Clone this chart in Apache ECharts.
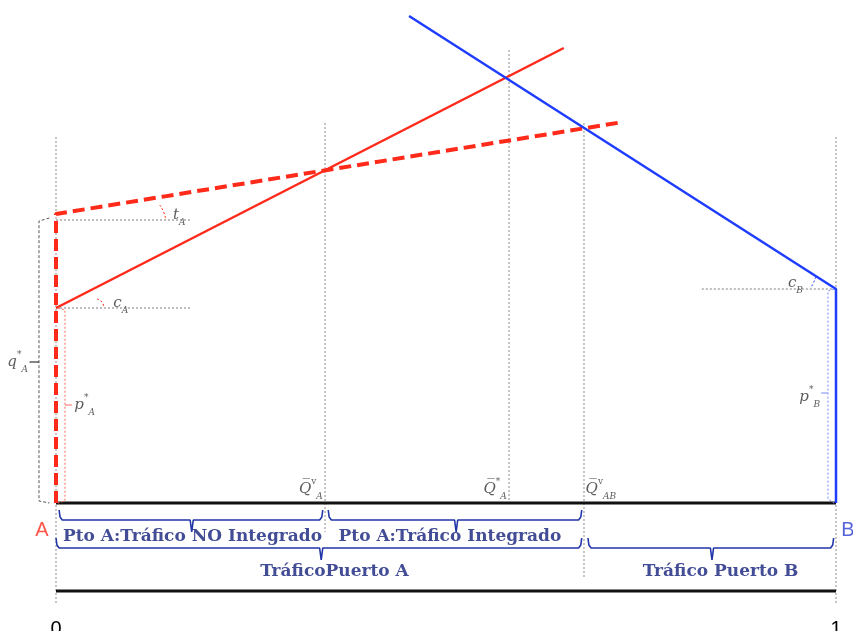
<!DOCTYPE html>
<html>
<head>
<meta charset="utf-8">
<script src="https://cdn.jsdelivr.net/npm/echarts@6/dist/echarts.min.js"></script>
<style>html,body{margin:0;padding:0;background:#fff}#c{width:853px;height:631px}</style>
</head>
<body>
<div id="c"></div>
<script>
// ---- data (x: share of traffic 0..1, y: price level, baseline = 0) ----
const xTicks = [0, 1];
const xRange = [-0.071795, 1.021795];
const redSolid = [[0, 195], [0.651, 455]];                 // c_A cost line
const redDashed = [[0, 0], [0, 289], [0.727, 381]];        // t_A tariff line
const blueLine = [[0.4526, 487], [1, 214], [1, 0]];        // port B line
const baseline = [[0, 0], [1, 0]];
const bottomLine = [[0, -88], [1, -88]];
const guideV = [
  [[0, 366], [0, -100]],
  [[0.3449, 380], [0.3449, -29]],
  [[0.5808, 453], [0.5808, 0]],
  [[0.6769, 380], [0.6769, -74]],
  [[1, 366], [1, -100]]
];
const guideH = [
  [[0, 283], [0.174, 283]],
  [[0, 195], [0.174, 195]],
  [[0.828, 214], [1, 214]]
];
const qBracket = [[-0.0085, 285], [-0.0218, 282], [-0.0218, 2], [-0.0085, 0]];
const qTick = [[-0.0218, 141], [-0.034, 141]];
const pABracket = [[0.0025, 195], [0.0115, 193], [0.0115, 2], [0.0025, 0]];
const pATick = [[0.0115, 98], [0.0205, 98]];
const pBBracket = [[0.9975, 214], [0.9897, 212], [0.9897, 4], [0.9975, 0]];
const pBTick = [[0.9897, 110], [0.981, 110]];
const arcCA = [[0.0526, 204], [0.059, 201], [0.0615, 195]];
const arcTA = [[0.133, 298], [0.138, 291], [0.141, 283]];
const arcCB = [[0.974, 226], [0.9705, 219], [0.967, 215]];
// braces: [x0, xc, x1, yTop, yMid, yTip]
const braces = [
  [0.004, 0.174, 0.342, -7, -17, -29],
  [0.349, 0.513, 0.674, -7, -17, -29],
  [0.0, 0.340, 0.674, -35, -45, -57],
  [0.682, 0.841, 0.997, -35, -45, -57]
];
const braceTexts = [
  ['Pto A:Tráfico NO Integrado', 0.175, -34],
  ['Pto A:Tráfico Integrado', 0.505, -34],
  ['TráficoPuerto A', 0.357, -69],
  ['Tráfico Puerto B', 0.852, -69]
];
// math labels: [text, x, y, align]
const mathLabels = [
  ['{m|t}{d|A}', 0.158, 288, 'center'],
  ['{m|c}{d|A}', 0.083, 200, 'center'],
  ['{m|c}{d|B}', 0.948, 220, 'center'],
  ['{m|p}{u|*}{d|A}', 0.0235, 98, 'left'],
  ['{m|p}{u|*}{d|B}', 0.9795, 106, 'right'],
  ['{m|q}{u|*}{d|A}', -0.036, 141, 'right'],
  ['{m|Q\u0305}{u|v}{d|A}', 0.342, 14, 'right'],
  ['{m|Q\u0305}{u|*}{d|A}', 0.578, 14, 'right'],
  ['{m|Q\u0305}{u|v}{d|AB}', 0.679, 14, 'left']
];
const endLabels = [
  ['A', -0.018, -27, '#ff2a1a'],
  ['B', 1.0154, -27, '#2a3cd0']
];

// ---- build ----
const RED = '#ff2a1a', BLUE = '#1f3dff', BRACE = '#2236a8';
function lineS(data, color, width, type, extra) {
  return Object.assign({
    type: 'line', data: data, symbol: 'none', clip: false, silent: true,
    animation: false, z: 2,
    lineStyle: { color: color, width: width, type: type || 'solid' }
  }, extra || {});
}
function bracePath(b) {
  const [x0, xc, x1, yT, yM, yTip] = b;
  const d = 0.004;
  return [[x0, yT], [x0 + d * 0.3, yM + 3], [x0 + d, yM], [xc - d * 0.5, yM],
          [xc, yTip], [xc + d * 0.5, yM], [x1 - d, yM], [x1 - d * 0.3, yM + 3], [x1, yT]];
}
const series = [];
guideV.forEach(g => series.push(lineS(g, '#8c8c8c', 1, [2, 2], { z: 1 })));
guideH.forEach(g => series.push(lineS(g, '#7c7c7c', 1, [2, 2], { z: 1 })));
series.push(lineS(baseline, '#111', 3, 'solid'));
series.push(lineS(bottomLine, '#111', 3, 'solid'));
series.push(lineS(redSolid, RED, 2.5, 'solid', { z: 3 }));
series.push(lineS(redDashed, RED, 4, [12, 6], { z: 3 }));
series.push(lineS(blueLine, BLUE, 2.5, 'solid', { z: 3 }));
series.push(lineS(qBracket, '#555', 1, [3, 2]));
series.push(lineS(qTick, '#333', 1.2, 'solid'));
series.push(lineS(pABracket, '#ff6a5a', 1, [2, 2]));
series.push(lineS(pATick, '#ff6a5a', 1, 'solid'));
series.push(lineS(pBBracket, '#7a8aff', 1, [2, 2]));
series.push(lineS(pBTick, '#7a8aff', 1, 'solid'));
series.push(lineS(arcCA, RED, 1, [2, 2], { smooth: true }));
series.push(lineS(arcTA, RED, 1, [2, 2], { smooth: true }));
series.push(lineS(arcCB, BLUE, 1, [2, 2], { smooth: true }));
braces.forEach(b => series.push(lineS(bracePath(b), BRACE, 1.6, 'solid')));

const richMath = {
  m: { fontFamily: 'DejaVu Serif', fontStyle: 'italic', fontSize: 15, color: '#333', lineHeight: 24 },
  u: { fontFamily: 'DejaVu Serif', fontSize: 9, color: '#333', verticalAlign: 'top', lineHeight: 10 },
  d: { fontFamily: 'DejaVu Serif', fontStyle: 'italic', fontSize: 9, color: '#333', verticalAlign: 'bottom', lineHeight: 10 }
};
series.push({
  type: 'scatter', symbolSize: 0, clip: false, silent: true, animation: false, z: 5,
  data: mathLabels.map(l => ({
    value: [l[1], l[2]],
    label: { show: true, position: 'inside', formatter: l[0], align: l[3], verticalAlign: 'middle', rich: richMath }
  }))
});
series.push({
  type: 'scatter', symbolSize: 0, clip: false, silent: true, animation: false, z: 5,
  data: braceTexts.map(t => ({
    value: [t[1], t[2]],
    label: { show: true, position: 'inside', formatter: t[0], align: 'center', verticalAlign: 'middle',
             fontFamily: 'DejaVu Serif', fontWeight: 'bold', fontSize: 17, color: '#14207a' }
  }))
});
series.push({
  type: 'scatter', symbolSize: 0, clip: false, silent: true, animation: false, z: 5,
  data: endLabels.map(t => ({
    value: [t[1], t[2]],
    label: { show: true, position: 'inside', formatter: t[0], align: 'center', verticalAlign: 'middle',
             fontFamily: 'Liberation Sans', fontSize: 20, color: t[3] }
  }))
});

const chart = echarts.init(document.getElementById('c'), null, { renderer: 'canvas' });
chart.setOption({
  animation: false,
  backgroundColor: '#fff',
  grid: { left: 0, right: 0, top: 0, bottom: 40, containLabel: false, outerBoundsMode: 'none' },
  xAxis: {
    type: 'value', min: xRange[0], max: xRange[1],
    axisLine: { show: false, onZero: false },
    axisTick: { show: false }, splitLine: { show: false },
    axisLabel: { customValues: xTicks, fontFamily: 'Liberation Sans', fontSize: 20, color: '#000', margin: 28 }
  },
  yAxis: { type: 'value', min: -88, max: 503, show: false, splitLine: { show: false } },
  series: series
});
</script>
</body>
</html>
